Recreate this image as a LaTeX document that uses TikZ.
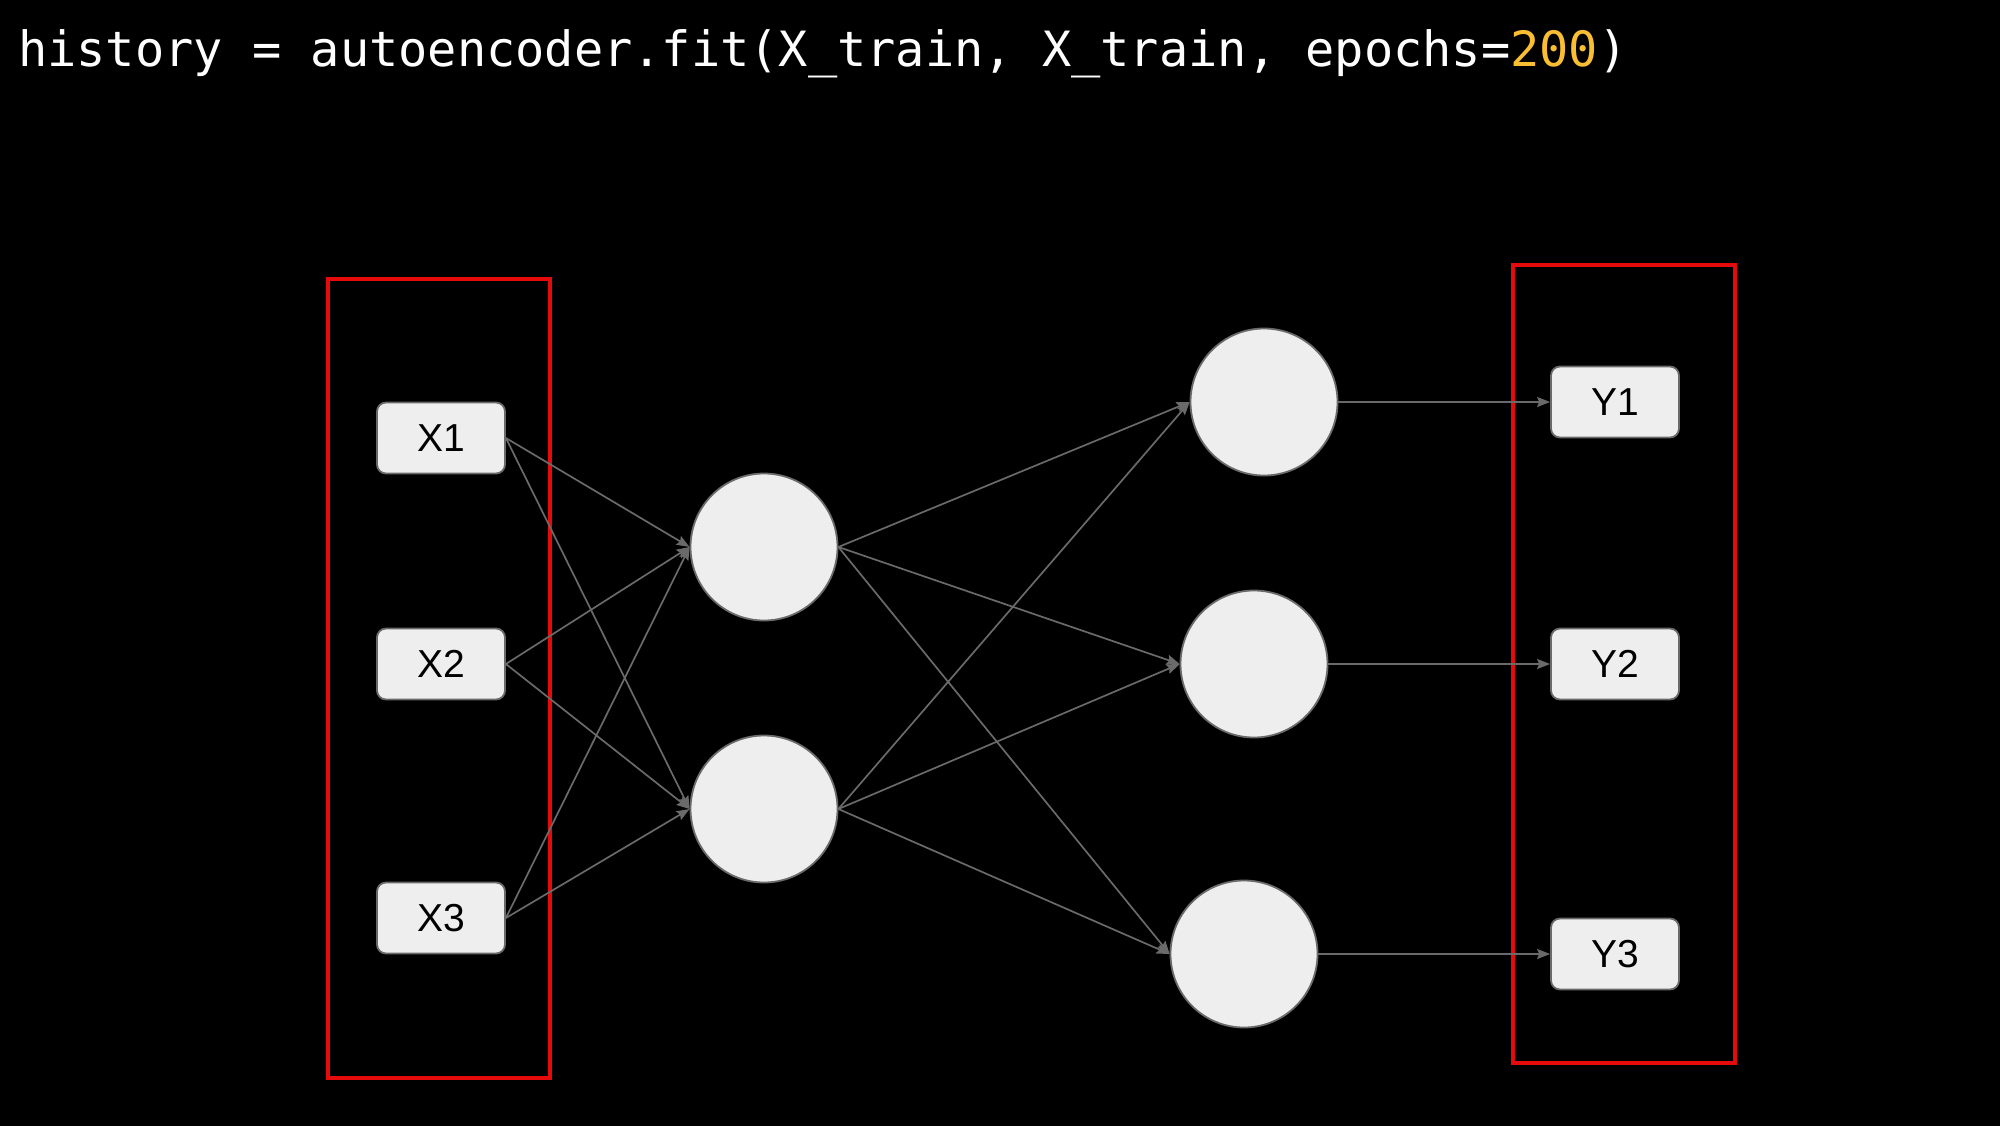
\documentclass[tikz,border=0pt]{standalone}
\usepackage{fontspec}
\setmainfont{Liberation Sans}
\newfontfamily\codefont{DejaVu Sans Mono}
\usetikzlibrary{arrows.meta}
\definecolor{nodefill}{HTML}{EEEEEE}
\definecolor{edgegray}{HTML}{6A6A6A}
\definecolor{framered}{RGB}{230,10,10}
\definecolor{numyellow}{RGB}{250,190,50}
\tikzset{
  unitbox/.style={draw=edgegray, line width=1.8pt, fill=nodefill, rounded corners=9pt,
    minimum width=128pt, minimum height=71pt, inner sep=0pt,
    font=\fontsize{39}{45}\selectfont, text=black},
  neuron/.style={circle, draw=edgegray, line width=1.8pt, fill=nodefill,
    minimum size=147pt, inner sep=0pt},
  link/.style={draw=edgegray, line width=1.7pt,
    -{Stealth[length=13pt, width=10pt, inset=2pt]}},
  redframe/.style={draw=framered, line width=4pt},
}
\begin{document}
\begin{tikzpicture}[x=1pt, y=-1pt]
  % canvas
  \useasboundingbox (0,0) rectangle (2000,1125);
  \fill[black] (-10,-10) rectangle (2010,1135);

  % code line
  \node[anchor=base west, inner sep=0pt, text=white,
        font=\codefont\fontsize{48.6}{56}\selectfont] (code) at (18,66)
    {history = autoencoder.fit(X\_train, X\_train, epochs=\textcolor{numyellow}{200})};

  % input / output frames
  \draw[redframe] (328,279) rectangle (550,1078);
  \draw[redframe] (1513,265) rectangle (1735,1063);

  % inputs
  \node[unitbox] (x1) at (441,438) {X1};
  \node[unitbox] (x2) at (441,664) {X2};
  \node[unitbox] (x3) at (441,918) {X3};

  % bottleneck layer
  \node[neuron] (h1) at (764,547) {};
  \node[neuron] (h2) at (764,809) {};

  % decoder layer
  \node[neuron] (o1) at (1264,402) {};
  \node[neuron] (o2) at (1254,664) {};
  \node[neuron] (o3) at (1244,954) {};

  % outputs
  \node[unitbox] (y1) at (1615,402) {Y1};
  \node[unitbox] (y2) at (1615,664) {Y2};
  \node[unitbox] (y3) at (1615,954) {Y3};

  % connections
  \foreach \s in {x1,x2,x3}
    \foreach \t in {h1,h2}
      \draw[link] (\s.east) -- (\t.west);
  \foreach \s in {h1,h2}
    \foreach \t in {o1,o2,o3}
      \draw[link] (\s.east) -- (\t.west);
  \draw[link] (o1.east) -- (y1.west);
  \draw[link] (o2.east) -- (y2.west);
  \draw[link] (o3.east) -- (y3.west);
\end{tikzpicture}
\end{document}
